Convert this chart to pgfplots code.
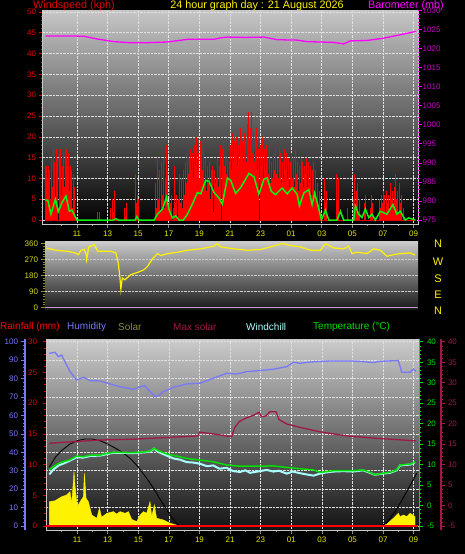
\documentclass[border=0pt]{standalone}
\usepackage{pgfplots}
\pgfplotsset{compat=1.18}
\usepackage{fontspec}
\setmainfont{Liberation Sans}
\definecolor{wsred}{HTML}{E00000}
\definecolor{baro}{HTML}{FF00FF}
\definecolor{barolab}{HTML}{C800C8}
\definecolor{avggreen}{HTML}{10F010}
\definecolor{dirlab}{HTML}{D8D820}
\definecolor{dirtick}{HTML}{909020}
\definecolor{timelab}{HTML}{E8E800}
\definecolor{humblue}{HTML}{7878F8}
\definecolor{tempgreen}{HTML}{00E000}
\definecolor{crim}{HTML}{A01848}
\definecolor{chill}{HTML}{A8FFFF}
\definecolor{solarlab}{HTML}{8C8C3C}
\definecolor{frame}{HTML}{C8C8C8}
\definecolor{dirzero}{HTML}{C898D0}
\pgfplotsset{
  panel/.style={scale only axis, /pgf/number format/assume math mode=true,
    /pgf/number format/set thousands separator={},
    tick label style={font=\fontsize{8}{9}\selectfont},
    major tick length=3.5pt, minor tick length=2pt, tick align=outside},
  timeaxis/.style={xtick={2,4,...,24}, xticklabels={11,13,15,17,19,21,23,01,03,05,07,09},
    minor xtick={1,3,...,23}, xtick pos=bottom,
    every x tick/.style={black!45, line width=0.6pt},
    xticklabel style={timelab, font=\fontsize{8}{9}\selectfont}},
  gridst/.style={major grid style={white!75!gray, densely dotted, line width=0.6pt}},
}
\begin{document}
\begin{tikzpicture}
\fill[black] (0pt,0pt) rectangle (465pt,-554pt);
\useasboundingbox (0pt,0pt) rectangle (465pt,-554pt);

% ---------------- TOP PANEL: wind speed ----------------
\begin{axis}[panel, timeaxis, gridst,
  at={(43pt,-10pt)}, anchor=north west, width=375pt, height=214pt,
  xmin=-0.22, xmax=24.29, ymin=-0.96, ymax=50.48,
  axis background/.style={top color=black!22, bottom color=black},
  axis line style={frame, line width=1pt},
  ytick={0,5,...,50}, minor y tick num=4, ytick pos=left,
  every y tick/.style={wsred, line width=0.6pt},
  yticklabel style={wsred},
  xmajorgrids, ymajorgrids]
\addplot[color=red!90!black, line width=1pt] coordinates {(-0.07,0) (24.15,0)};
\addplot[ycomb, color=red, line width=0.85pt] coordinates {
(-0.07,13) (-0.02,8) (0.03,13) (0.08,10) (0.13,13) (0.18,0) (0.23,12) (0.28,5) (0.33,15) (0.38,8) (0.43,17) (0.48,10) (0.53,14) (0.58,4) (0.63,17) (0.68,9) (0.73,15) (0.78,0) (0.83,16) (0.88,11) (0.93,17) (0.98,6) (1.03,13) (1.08,12) (1.13,16) (1.18,8) (1.24,20) (1.29,10) (1.34,17) (1.39,13) (1.44,16) (1.49,7) (1.54,13) (1.59,10) (1.64,12) (1.69,3) (1.74,11) (1.79,5) (1.84,8) (1.89,1) (1.94,0)
(3.30,0) (3.35,2) (3.45,2) (3.50,0) (4.15,0) (4.20,3) (4.26,0) (4.32,5) (4.38,2) (4.44,7) (4.50,0) (5.05,0) (5.10,3) (5.16,1) (5.22,4) (5.28,0) (5.75,0) (5.80,11) (5.86,4) (5.92,6) (5.98,2) (6.04,5) (6.10,0) (7.05,0)
(7.10,4) (7.16,9) (7.22,3) (7.28,15) (7.34,5) (7.40,12) (7.46,2) (7.52,14) (7.58,6) (7.64,15) (7.70,3) (7.76,10) (7.82,18) (7.88,8) (7.94,12) (8.00,3) (8.06,10) (8.12,4) (8.18,6) (8.24,0) (8.30,3) (8.36,13) (8.42,4) (8.48,6) (8.54,0) (8.60,5) (8.66,2) (8.72,11) (8.78,4) (8.84,10) (8.90,3) (8.96,12)
(9.02,6) (9.08,14) (9.14,9) (9.2,16) (9.26,11) (9.32,15) (9.38,8) (9.44,17) (9.5,12) (9.56,16) (9.62,10) (9.68,18) (9.74,13) (9.8,20) (9.86,12) (9.92,16) (9.98,10) (10.04,19) (10.1,14) (10.16,20) (10.22,12) (10.28,17) (10.34,9) (10.4,15) (10.46,7) (10.52,13) (10.58,9) (10.64,14) (10.7,5) (10.76,12) (10.82,8) (10.88,13) (10.94,2) (11.0,12) (11.06,9) (11.12,10) (11.18,15) (11.24,8) (11.3,13) (11.36,18) (11.42,0) (11.48,17) (11.54,12) (11.6,20) (11.66,13) (11.72,17) (11.78,11) (11.84,15) (11.9,10) (11.96,14) (12.02,18) (12.08,12) (12.14,21) (12.2,14) (12.26,19) (12.32,12) (12.38,17) (12.44,20) (12.5,13) (12.56,18) (12.62,15) (12.68,22) (12.74,16) (12.8,19) (12.86,14) (12.92,21) (12.98,17) (13.04,20) (13.1,14) (13.16,23) (13.22,26) (13.28,17) (13.34,22) (13.4,26) (13.46,16) (13.52,21) (13.58,14) (13.64,19) (13.7,15) (13.76,22) (13.82,12) (13.88,17) (13.94,0) (14.0,18) (14.06,13) (14.12,20) (14.18,10) (14.24,17) (14.3,12) (14.36,18) (14.42,9) (14.48,15) (14.54,11) (14.6,17) (14.66,9) (14.72,14) (14.78,10) (14.84,16) (14.9,12) (14.96,17) (15.02,11) (15.08,15) (15.14,10) (15.2,17) (15.26,12) (15.32,16) (15.38,9) (15.44,14) (15.5,10) (15.56,17) (15.62,12) (15.68,16) (15.74,10) (15.8,15) (15.86,8) (15.92,14) (15.98,11) (16.04,16) (16.1,10) (16.16,15) (16.22,8) (16.28,17) (16.34,11) (16.4,14) (16.46,7) (16.52,13) (16.58,9) (16.64,15) (16.7,10) (16.76,14) (16.82,8) (16.88,13) (16.94,11) (17.0,15) (17.06,8) (17.12,14) (17.18,9) (17.24,13) (17.3,6) (17.36,12) (17.42,8) (17.48,14) (17.54,7) (17.6,12) (17.66,5) (17.72,9) (17.78,3) (17.84,7) (17.9,2) (17.96,0)
(18.1,0) (18.16,10) (18.22,4) (18.28,7) (18.34,0) (18.9,0) (18.96,11) (19.02,5) (19.08,10) (19.14,0) (19.6,0) (19.66,3) (19.72,0) (20.0,0) (20.06,5) (20.12,11) (20.18,3) (20.24,7) (20.3,0) (20.36,9) (20.42,2) (20.48,5) (20.54,0) (20.7,0) (20.76,4) (20.82,2) (20.88,6) (20.94,0) (21.1,0) (21.16,3) (21.22,6) (21.28,1) (21.34,4) (21.4,0) (21.7,0) (21.76,5) (21.82,3) (21.88,6) (21.94,4) (22.0,7) (22.06,3) (22.12,6) (22.18,2) (22.24,7) (22.3,4) (22.36,6) (22.42,3) (22.48,9) (22.54,5) (22.6,7) (22.66,4) (22.72,8) (22.78,3) (22.84,11) (22.9,5) (22.96,7) (23.02,2) (23.08,9) (23.14,4) (23.2,6) (23.26,0) (23.32,3) (23.38,0) (24.15,0)
};
\addplot[color=avggreen, line width=1.5pt] coordinates {
(-0.07,4.8) (0.09,4.8) (0.30,1.4) (0.59,5.0) (0.78,2.0) (1.0,4.0) (1.28,5.8) (1.5,2.1) (1.67,2.4) (1.83,1.2) (2.0,0) (4.4,0) (4.54,0.3) (4.7,0) (5.8,0) (5.91,0.8) (6.05,0) (7.04,0) (7.26,1.4) (7.59,2.6) (7.85,5.5) (8.02,2.5) (8.24,0.5) (8.46,1.0) (8.67,0) (8.96,0) (9.22,1.4) (9.54,3.8) (9.87,6.6) (10.09,6.3) (10.41,9.5) (10.63,9.3) (10.96,6.6) (11.28,5.3) (11.5,3.8) (11.83,10.1) (12.04,9.6) (12.37,6.4) (12.7,7.8) (13.24,11.2) (13.57,10.4) (13.89,6.2) (14.22,9.8) (14.43,10.1) (14.7,6.9) (14.98,6.1) (15.41,7.7) (15.74,6.3) (16.07,7.7) (16.39,6.2) (16.54,3.4) (16.83,6.5) (17.15,7.3) (17.37,3.7) (17.54,6.5) (17.74,3.7) (17.98,0) (18.24,2.4) (18.46,0) (19.0,0) (19.22,2.1) (19.43,0) (20.09,0) (20.2,3.4) (20.41,1.4) (20.63,0.6) (20.85,2.6) (21.07,0.6) (21.28,1.4) (21.5,0) (21.83,2.1) (22.26,1.4) (22.65,3.7) (22.91,1.4) (23.13,2.1) (23.46,0) (23.67,0.5) (24.11,0)
};
\end{axis}
\begin{axis}[panel,
  at={(43pt,-10pt)}, anchor=north west, width=375pt, height=214pt,
  xmin=-0.22, xmax=24.29, ymin=973.95, ymax=1030.1,
  hide x axis, axis y line*=right, y axis line style={draw=none},
  ytick={975,980,...,1030}, minor y tick num=4,
  every y tick/.style={baro, line width=0.6pt},
  yticklabel style={barolab, inner sep=1pt}]
\addplot[color=baro, line width=1.3pt] coordinates {
(-0.07,1023.3) (1.5,1023.3) (2.48,1023.2) (3.3,1022.5) (4.43,1021.8) (5.5,1021.5) (6.39,1021.5) (7.91,1021.7) (9.22,1022.4) (10.96,1022.4) (11.4,1022.8) (11.83,1023.0) (13.0,1022.9) (14.22,1023.0) (15.09,1022.3) (16.39,1022.2) (17.04,1021.8) (18.78,1021.6) (19.43,1021.2) (19.87,1022.0) (20.96,1022.1) (22.04,1022.7) (23.13,1023.6) (24.17,1024.5)
};
\end{axis}

% ---------------- MIDDLE PANEL: wind direction ----------------
\begin{axis}[panel,
  at={(45pt,-241pt)}, anchor=north west, width=373pt, height=68pt,
  xmin=-0.09, xmax=24.29, ymin=-9.6, ymax=374.1,
  axis background/.style={top color=black!20, bottom color=black!90},
  axis line style={draw=none},
  xtick=\empty, ytick={0,90,...,360}, minor y tick num=5, ytick pos=left,
  every y tick/.style={dirtick, line width=0.6pt},
  yticklabel style={dirlab},
  ymajorgrids, major grid style={white!60!gray, densely dotted, line width=0.5pt}]
\addplot[color=dirzero, line width=1.6pt] coordinates {(-0.09,0) (24.29,0)};
\addplot[color=yellow, line width=1.2pt] coordinates {
(0.0,335) (0.63,322) (1.39,316) (1.87,307) (2.09,297) (2.26,322) (2.48,326) (2.6,300) (2.63,269) (2.7,300) (2.76,341) (2.91,345) (3.13,354) (3.35,316) (4.22,316) (4.54,307) (4.7,250) (4.8,174) (4.87,102) (4.96,165) (5.13,155) (5.52,184) (5.96,197) (6.39,212) (6.61,231) (6.93,273) (7.26,303) (7.48,292) (7.91,303) (8.57,311) (9.22,322) (10.09,330) (10.96,345) (11.17,360) (11.39,341) (12.26,330) (13.13,322) (14.0,326) (14.65,341) (15.41,360) (15.96,349) (16.61,341) (17.26,322) (17.91,322) (18.24,360) (18.78,335) (19.43,330) (19.76,345) (19.98,303) (20.3,311) (20.96,303) (21.39,330) (21.83,322) (22.26,288) (22.7,297) (23.13,303) (23.78,307) (24.11,294)
};
\end{axis}

% ---------------- BOTTOM PANEL ----------------
\begin{axis}[panel, timeaxis, gridst,
  at={(46pt,-339pt)}, anchor=north west, width=373pt, height=191pt,
  xmin=-0.03, xmax=24.35, ymin=-2.17, ymax=101.5,
  axis background/.style={top color=black!20, bottom color=black!93},
  axis line style={frame, line width=1pt},
  ytick={0,10,...,100}, yticklabels={}, ytick pos=left,
  every y tick/.style={draw=none},
  xmajorgrids, ymajorgrids]
\addplot[draw=yellow, fill=yellow, line width=0.4pt] coordinates {
(0.19,13.2) (0.56,13.7) (1.0,15.9) (1.32,16.8) (1.54,18.6) (1.65,12.3) (1.72,20) (1.8,29.5) (1.87,21.3) (2.02,10.5) (2.2,13.2) (2.41,15.9) (2.48,28.6) (2.59,15) (2.74,13.2) (2.96,6) (3.29,4.2) (3.46,9.6) (3.61,4.7) (3.94,6.9) (4.38,7.8) (4.59,6.5) (4.81,7.8) (5.14,6.9) (5.36,7.8) (5.57,3.6) (5.9,2.4) (6.12,6) (6.34,7.8) (6.55,6.9) (6.77,13.2) (6.88,5.1) (7.05,11.4) (7.2,4.2) (7.64,3.3) (8.08,1.5) (8.73,0) (21.9,0) (22.24,0.9) (22.67,4.2) (23.0,6.9) (23.11,5.1) (23.33,6) (23.55,5.1) (23.77,6.9) (24.09,5.1)
} \closedcycle;
\addplot[color=black, line width=0.9pt] coordinates {
(0.19,32) (0.6,37.5) (1.0,41) (1.5,44.3) (2.0,46.3) (2.5,47.2) (3.0,47.2) (3.5,46.3) (4.0,44.5) (4.5,42.3) (5.0,39.8) (5.5,36.5) (6.0,32) (6.5,26.5) (7.0,20.5) (7.5,13.5) (8.0,7) (8.4,2.5) (8.7,0)
};
\addplot[color=black, line width=0.9pt] coordinates {
(21.9,0) (22.3,2.5) (22.8,8) (23.3,15) (23.8,22.5) (24.2,28.6)
};
\addplot[color=humblue, line width=1.3pt] coordinates {
(0.19,93.7) (0.56,94.3) (0.78,91.9) (1.0,92.8) (1.2,89.2) (1.54,83.8) (1.98,79.2) (2.42,80.7) (2.85,78.9) (3.5,78.7) (4.16,77.1) (4.81,75.6) (5.68,74.2) (6.4,76.3) (6.77,72.9) (7.1,70.2) (7.38,71.1) (7.64,72.9) (8.3,75.3) (9.17,77.1) (10.04,77.5) (10.9,80.2) (11.78,82.9) (12.44,82.5) (13.09,83.8) (13.96,84.4) (14.83,85.1) (15.71,86.5) (16.15,88.9) (16.57,88.3) (17.23,89) (18.54,89.6) (19.84,89.6) (20.72,89.2) (21.37,88.7) (21.81,89.4) (23.0,89.8) (23.22,83.5) (23.77,83.5) (23.98,85.1) (24.16,83.8)
};
\end{axis}
\begin{axis}[panel,
  at={(46pt,-339pt)}, anchor=north west, width=373pt, height=191pt,
  xmin=-0.03, xmax=24.35, ymin=-0.65, ymax=30.44,
  hide x axis, axis y line*=left, y axis line style={draw=none},
  ytick={0,5,...,30}, minor y tick num=4,
  every y tick/.style={wsred, line width=0.6pt},
  yticklabel style={wsred, xshift=-2pt}]
\addplot[color=red, line width=1.8pt] coordinates {(0.0,0) (24.3,0)};
\end{axis}
\begin{axis}[panel,
  at={(25pt,-339pt)}, anchor=north west, width=10pt, height=191pt,
  xmin=0, xmax=1, ymin=-2.17, ymax=101.5,
  hide x axis, axis y line*=left, y axis line style={humblue, line width=1.4pt, -},
  ytick={0,10,...,100}, minor y tick num=4,
  every y tick/.style={humblue, line width=0.6pt},
  yticklabel style={humblue}]
\end{axis}
\begin{axis}[panel,
  at={(46pt,-339pt)}, anchor=north west, width=373pt, height=191pt,
  xmin=-0.03, xmax=24.35, ymin=-5.98, ymax=40.68,
  hide x axis, axis y line*=right, y axis line style={tempgreen, line width=0.8pt, -},
  ytick={-5,0,...,40}, minor y tick num=4,
  every y tick/.style={tempgreen, line width=0.6pt},
  yticklabel style={tempgreen, xshift=1pt}]
\addplot[color=crim, line width=1.3pt] coordinates {
(0.19,15.2) (1.32,15.5) (3.5,16.0) (5.68,16.2) (8.3,16.7) (9.9,17.0) (10.0,17.9) (10.9,17.5) (12.1,16.8) (12.3,19.0) (12.6,20.5) (13.0,21.3) (13.5,22.0) (13.9,22.8) (14.05,21.7) (14.35,21.9) (14.6,22.9) (15.0,22.9) (15.2,21.0) (15.71,19.9) (16.57,19.1) (17.88,18.0) (19.63,17.0) (20.93,16.6) (22.02,16.3) (24.15,15.8)
};
\addplot[color=chill, line width=2pt] coordinates {
(0.19,7.6) (0.45,8.8) (0.8,9.8) (1.2,10.4) (1.5,10.9) (1.98,11.8) (2.4,11.7) (2.85,12.1) (3.5,12.2) (4.38,12.9) (5.68,12.8) (6.4,13.0) (6.77,13.2) (7.03,13.9) (7.31,13.1) (7.86,12.2) (8.3,11.5) (8.73,11.2) (9.17,10.6) (9.6,10.5) (10.04,10.2) (10.5,9.6) (10.9,9.8) (11.3,9.0) (11.78,9.2) (12.2,8.4) (12.65,8.2) (13.0,8.6) (13.3,8.0) (13.96,8.4) (14.4,8.7) (14.83,8.3) (15.2,8.5) (15.71,7.8) (16.1,8.3) (16.57,7.9) (17.0,7.6) (17.45,7.3) (17.88,7.8) (18.3,8.1) (18.75,8.3) (19.4,8.4) (20.04,8.3) (20.7,8.6) (21.13,8.0) (21.46,7.5) (22.02,7.8) (22.46,8.0) (22.89,8.6) (23.11,9.8) (23.77,10.0) (24.09,10.6)
};
\addplot[color=tempgreen, line width=1.5pt] coordinates {
(0.19,8.7) (0.45,9.5) (0.9,10.5) (1.5,11.1) (1.98,12.1) (2.4,11.9) (2.85,12.3) (3.5,12.3) (3.9,12.7) (4.38,13.0) (5.68,12.9) (6.4,13.1) (6.77,13.3) (7.03,14.0) (7.31,13.4) (7.86,12.6) (8.73,11.9) (9.17,11.5) (10.04,11.1) (10.9,10.7) (11.78,9.9) (12.65,9.6) (13.96,9.6) (14.83,9.7) (15.71,9.3) (16.57,9.0) (17.45,8.7) (17.88,8.1) (18.75,8.5) (20.04,8.5) (20.7,8.7) (21.13,8.1) (21.46,7.5) (22.02,7.9) (22.46,8.1) (22.89,8.7) (23.11,9.9) (23.77,10.1) (24.09,10.7)
};
\end{axis}
\begin{axis}[panel,
  at={(441pt,-339pt)}, anchor=north east, width=10pt, height=191pt,
  xmin=0, xmax=1, ymin=-5.98, ymax=40.68,
  hide x axis, axis y line*=right, y axis line style={crim, line width=1.2pt, -},
  ytick={-5,0,...,40}, minor y tick num=4,
  every y tick/.style={crim, line width=0.6pt},
  yticklabel style={crim}]
\end{axis}

% ---------------- TEXT ----------------
\begin{scope}[every node/.style={inner sep=0pt, font=\fontsize{10.8}{12}\selectfont}]
\node[anchor=west, text=wsred] at (33pt,-6pt) {Windspeed (kph)};
\node[text=yellow] at (257pt,-6pt) {24 hour graph day : 21 August 2026};
\node[anchor=east, text=baro] at (444pt,-6pt) {Barometer (mb)};
\end{scope}
\begin{scope}[every node/.style={inner sep=0pt, font=\fontsize{10}{12}\selectfont}]
\node[anchor=west, text=red] at (0pt,-327pt) {Rainfall (mm)};
\node[anchor=west, text=humblue] at (67pt,-327pt) {Humidity};
\node[anchor=west, text=solarlab] at (118pt,-327pt) {Solar};
\node[anchor=west, text=crim] at (173pt,-327pt) {Max solar};
\node[anchor=west, text=chill] at (246pt,-327pt) {Windchill};
\node[anchor=west, text=tempgreen] at (313pt,-327pt) {Temperature (°C)};
\end{scope}
\begin{scope}[every node/.style={inner sep=0pt, text=yellow, font=\fontsize{11}{12}\selectfont}]
\node at (438pt,-244pt) {N};
\node at (438pt,-262pt) {W};
\node at (438pt,-279pt) {S};
\node at (438pt,-295pt) {E};
\node at (438pt,-311pt) {N};
\end{scope}
\end{tikzpicture}
\end{document}
